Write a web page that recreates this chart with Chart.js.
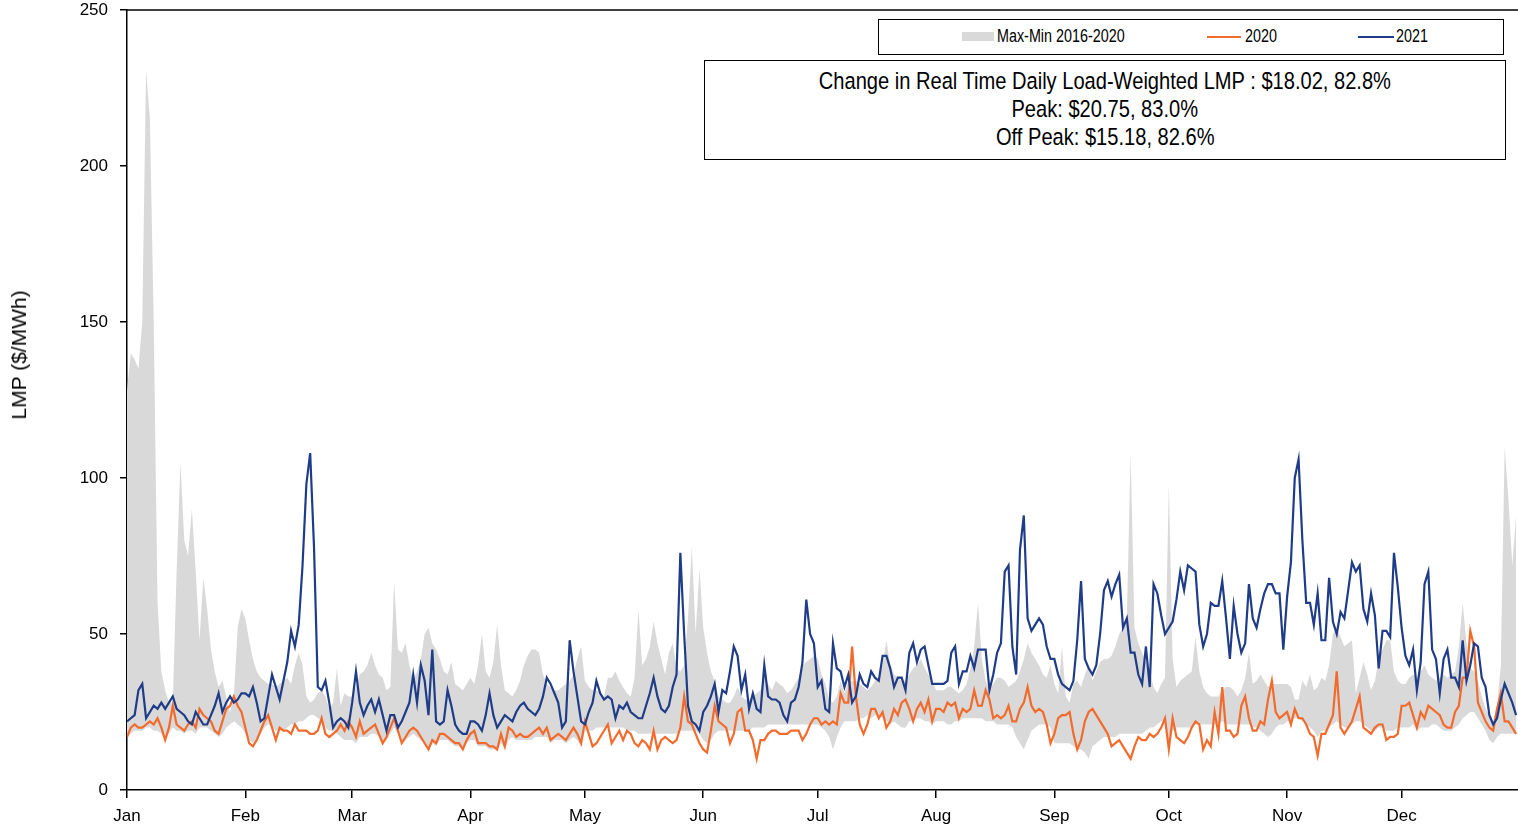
<!DOCTYPE html>
<html><head><meta charset="utf-8">
<script src="https://cdn.jsdelivr.net/npm/chart.js@4.4.1/dist/chart.umd.min.js"></script>
<style>
html,body{margin:0;padding:0;background:#fff;overflow:hidden;}
#wrap{position:relative;width:1518px;height:828px;}
#c{position:absolute;left:0;top:0;}
.t{position:absolute;color:#000;white-space:nowrap;}
#legend{position:absolute;left:878px;top:19px;width:626px;height:36px;border:1.5px solid #000;box-sizing:border-box;background:#fff;}
#note{position:absolute;left:704px;top:60px;width:802px;height:100px;border:1.5px solid #000;box-sizing:border-box;background:#fff;}
.nl{position:absolute;left:0;width:100%;text-align:center;line-height:28px;}
.sq{display:inline-block;transform-origin:center center;}
</style>
</head><body>
<div id="wrap">
<canvas id="c" width="1518" height="828"></canvas>
<div id="legend">
  <div style="position:absolute;left:83px;top:12px;width:32px;height:9px;background:#d9d9d9;"></div>
  <div class="t lg" style="left:118px;top:6px;">Max-Min 2016-2020</div>
  <div style="position:absolute;left:328px;top:15.5px;width:34px;height:2px;background:#f26b2c;"></div>
  <div class="t lg" style="left:366px;top:6px;">2020</div>
  <div style="position:absolute;left:479px;top:15.5px;width:36px;height:2px;background:#1f3c88;"></div>
  <div class="t lg" style="left:517px;top:6px;">2021</div>
</div>
<div id="note">
  <div class="nl" style="top:6px;"><span class="sq nt">Change in Real Time Daily Load-Weighted LMP : $18.02, 82.8%</span></div>
  <div class="nl" style="top:34px;"><span class="sq nt">Peak: $20.75, 83.0%</span></div>
  <div class="nl" style="top:62px;"><span class="sq nt">Off Peak: $15.18, 82.6%</span></div>
</div>
<div id="ytitle" class="t" style="left:19px;top:355px;transform:translate(-50%,-50%) rotate(-90deg);font-family:'Liberation Sans',Arial,sans-serif;font-size:21px;">LMP ($/MWh)</div>
</div>
<script>
// ---- data (daily values, day 0 = Jan 1) ----
const monthLabels = ['Jan','Feb','Mar','Apr','May','Jun','Jul','Aug','Sep','Oct','Nov','Dec'];
const monthStartDay = [0,31,59,90,120,151,181,212,243,273,304,334];
const yTickValues = [0,50,100,150,200,250];
const seriesNames = ['Max-Min 2016-2020','2020','2021'];

const lmp2021 = [
22,23,24,32,34,23,25,27,26,28,26,28,30,26,25,24,22,21,25,23,21,21,24,27,31,25,28,30,28,29,31,
31,30,33,28,22,23,30,37,33,29,35,41,51,46,53,72,98,108,78,33,32,35,28,20,22,23,22,20,
28,38,28,24,27,29,25,29,24,19,24,24,20,22,25,28,37,28,40,35,24,45,22,21,22,32,27,21,19,18,18,
22,22,21,19,24,31,24,20,22,24,23,22,25,27,28,26,25,24,26,30,36,34,31,28,20,22,48,38,30,22,
21,25,28,35,31,29,30,29,23,27,26,28,25,24,23,23,27,31,36,30,26,25,27,33,37,76,50,27,22,21,19,
25,27,30,34,25,32,31,38,46,43,32,37,26,31,26,25,40,30,29,29,28,24,22,28,29,33,41,61,50,47,
33,35,26,25,47,39,38,33,37,28,30,37,34,33,38,36,35,43,43,39,33,36,36,32,44,47,41,45,46,40,34,
34,34,34,35,44,46,34,38,38,43,39,45,45,45,32,37,44,47,70,72,46,37,77,88,55,51,53,55,53,46,42,
42,37,34,33,32,35,48,67,42,39,37,40,50,64,67,62,66,69,52,55,44,44,37,34,46,33,66,63,56,50,
52,54,61,70,64,72,71,70,53,46,50,60,59,59,67,55,42,59,50,44,47,66,55,52,58,63,66,66,63,63,45,
62,73,100,106,80,60,60,53,63,48,48,68,54,50,57,55,64,73,70,72,58,54,63,56,39,51,51,49,76,65,
52,43,40,45,32,41,66,70,45,42,31,42,45,36,36,33,48,35,40,47,46,36,33,24,21,23,29,34,31,28,24
];

const lmp2020 = [
17,20,21,20,20,21,22,21,23,20,16,20,27,21,20,19,21,22,20,26,24,23,22,19,18,22,26,27,30,27,25,
20,15,14,16,19,22,24,20,16,20,19,19,18,21,19,19,19,18,18,19,23,18,17,18,19,21,19,22,
20,17,22,18,19,20,21,18,15,17,20,23,19,15,17,19,20,19,17,15,13,16,15,18,18,17,16,15,15,13,16,
18,19,15,15,15,14,14,13,18,14,20,19,17,18,17,17,18,19,20,18,20,16,17,18,17,16,18,20,18,15,
22,18,14,15,17,19,21,15,17,19,16,19,18,15,14,16,15,13,19,13,16,17,16,15,16,20,30,22,21,18,15,
13,12,19,27,22,21,20,15,18,25,26,19,19,16,10,16,16,18,19,19,18,18,18,19,19,19,16,18,21,23,
23,21,22,21,22,21,31,28,28,46,30,21,18,21,26,26,23,25,20,22,26,24,28,29,26,22,26,28,25,29,22,
26,26,25,28,27,28,23,26,25,26,32,27,27,32,29,23,24,23,24,27,22,22,26,28,33,27,25,26,25,21,15,
18,23,24,24,25,18,13,16,22,25,26,24,22,20,18,14,15,16,14,12,10,14,17,16,16,18,17,18,20,23,
13,23,17,16,15,17,20,22,21,13,16,14,25,18,33,19,19,17,18,27,30,23,19,19,22,21,29,35,25,23,24,
25,21,26,23,23,21,18,17,11,18,18,21,24,38,20,18,20,22,26,30,20,19,18,20,21,21,16,17,17,18,
27,27,28,24,20,25,23,27,26,25,24,21,20,20,25,27,36,36,51,46,28,25,22,20,19,26,31,22,22,20,18
];

const rangeMax = [
128,140,138,135,150,231,215,150,60,38,32,28,28,70,105,80,75,90,70,48,68,58,45,38,33,35,30,25,30,52,58,
55,48,42,38,36,35,34,34,33,34,35,36,34,40,44,40,30,28,29,31,32,30,26,28,39,27,31,30,
30,33,37,38,40,44,40,37,36,32,33,67,45,44,47,40,35,38,42,50,52,47,45,42,38,37,41,34,33,32,34,
36,34,40,50,38,36,41,53,40,32,31,30,32,35,40,43,45,45,44,37,34,33,32,32,33,34,35,37,42,46,
35,33,32,32,31,30,36,36,38,35,33,31,30,36,58,40,42,46,54,47,42,37,44,47,39,38,40,55,78,50,71,
52,44,38,35,30,29,28,28,30,33,30,29,29,30,31,32,37,34,32,35,34,33,31,32,34,36,40,41,42,43,
42,37,34,29,28,30,35,31,35,35,35,34,33,32,33,35,36,40,48,40,37,36,35,35,37,39,40,42,39,37,35,
32,32,32,33,33,32,31,32,34,39,46,60,42,35,32,34,36,36,35,33,34,35,38,42,47,44,42,40,37,36,40,
34,31,46,30,28,34,35,33,37,40,35,38,41,42,42,43,46,50,52,55,108,52,47,44,41,38,33,31,34,36,
98,42,33,35,36,37,38,49,38,33,31,30,30,30,32,33,33,32,30,32,36,44,34,35,37,35,33,34,34,34,34,
34,33,29,29,35,33,37,32,33,36,35,40,50,52,49,46,47,48,31,36,41,37,32,35,42,45,48,48,38,35,
34,34,36,37,36,38,40,37,36,35,36,37,36,37,38,46,60,47,39,38,35,30,26,24,22,27,40,110,93,72,88
];

const rangeMin = [
17,18,19,19,19,20,20,19,19,18,16,18,20,19,19,18,19,19,18,20,20,20,19,18,17,18,20,21,22,21,20,
18,16,15,16,18,20,21,20,19,19,19,20,21,21,22,22,23,24,24,23,22,20,19,19,18,17,16,16,
16,15,17,17,17,18,18,17,15,16,18,20,18,15,16,17,18,17,16,15,13,15,14,16,16,16,15,14,14,13,15,
16,16,14,14,14,13,13,13,15,13,16,17,16,16,16,16,16,17,17,17,17,15,16,16,16,15,16,17,16,14,
19,19,19,20,20,20,20,20,20,20,20,19,19,19,18,18,18,18,18,18,18,18,18,18,18,19,19,19,19,19,18,
16,15,16,18,19,19,19,19,19,19,19,19,19,20,20,20,20,21,21,21,21,21,21,21,21,21,21,21,21,21,
21,20,19,17,13,17,20,22,22,22,22,23,23,24,23,24,24,23,22,21,22,21,20,20,22,22,23,23,22,22,21,
22,22,22,21,21,22,22,23,23,23,23,23,23,22,22,22,21,21,21,21,20,17,15,13,16,19,20,21,21,21,20,
15,15,15,15,15,14,13,13,12,10,14,15,16,17,17,17,17,18,18,18,18,18,18,18,19,20,20,21,22,22,
14,19,20,20,20,20,20,21,21,21,21,21,21,21,22,21,21,21,21,21,21,21,20,20,19,18,17,18,20,21,21,
22,22,23,23,22,21,20,19,17,19,19,20,21,22,21,20,20,21,22,22,21,20,19,19,20,20,19,19,19,20,
20,20,20,21,19,20,20,20,21,21,20,19,19,19,20,21,23,24,25,25,23,21,19,16,15,17,18,18,18,18,18
];

// ---- font detection ----
function hasFont(name){
  const c=document.createElement('canvas').getContext('2d');
  const s='abcdefghijklmnopqrstuvwxyzWM0123';
  c.font='40px monospace'; const a=c.measureText(s).width;
  c.font='40px "'+name+'", monospace'; const b=c.measureText(s).width;
  return Math.abs(a-b)>0.5;
}
const narrow = hasFont('Liberation Sans Narrow');
const fam = narrow ? '"Liberation Sans Narrow", "Liberation Sans", Arial, sans-serif' : '"Liberation Sans", Arial, sans-serif';

document.querySelectorAll('.nt').forEach(e=>{e.style.fontFamily=fam;e.style.fontSize='24.5px';if(!narrow){e.style.transform='scaleX(0.82)';}});
document.querySelectorAll('.lg').forEach(e=>{e.style.fontFamily=fam;e.style.fontSize='17.5px';if(!narrow){e.style.transform='scaleX(0.82)';e.style.transformOrigin='left center';}});

const toXY = arr => arr.map((v,i)=>({x:i,y:v}));
const tickFont = {family: fam, size: narrow?20:17, lineHeight:1};

const topBorder = {
  id:'topBorder',
  afterDraw(chart){
    const {ctx, chartArea:a} = chart;
    ctx.save(); ctx.strokeStyle='#000'; ctx.lineWidth=1.5;
    ctx.beginPath(); ctx.moveTo(a.left, a.top); ctx.lineTo(a.right, a.top); ctx.stroke();
    ctx.restore();
  }
};

new Chart(document.getElementById('c'), {
  type:'line',
  data:{datasets:[
    {label:'min', data:toXY(rangeMin), borderWidth:0, pointRadius:0, fill:false, order:3, borderColor:'rgba(0,0,0,0)'},
    {label:seriesNames[0], data:toXY(rangeMax), borderWidth:0, pointRadius:0, backgroundColor:'#d9d9d9', borderColor:'rgba(0,0,0,0)', fill:'-1', order:3},
    {label:seriesNames[1], data:toXY(lmp2020), borderColor:'#f26b2c', borderWidth:2.2, pointRadius:0, fill:false, order:2},
    {label:seriesNames[2], data:toXY(lmp2021), borderColor:'#1f3c88', borderWidth:2.2, pointRadius:0, fill:false, order:1}
  ]},
  options:{
    responsive:false, animation:false, devicePixelRatio:1,
    layout:{padding:{left:0,right:0,top:10,bottom:0}},
    plugins:{legend:{display:false}, tooltip:{enabled:false}},
    elements:{line:{tension:0}},
    scales:{
      x:{type:'linear', min:0, max:364.5,
        afterBuildTicks:s=>{s.ticks=monthStartDay.map(v=>({value:v}));},
        ticks:{callback:v=>monthLabels[monthStartDay.indexOf(v)], font:tickFont, color:'#000', padding:10, maxRotation:0, autoSkip:false},
        grid:{drawOnChartArea:false, drawTicks:true, tickLength:8, color:'#000', lineWidth:1.5},
        border:{color:'#000', width:1.5},
        afterFit:s=>{s.height=38; s.paddingLeft=0; s.paddingRight=0;}
      },
      y:{min:0, max:250,
        afterBuildTicks:s=>{s.ticks=yTickValues.map(v=>({value:v}));},
        ticks:{font:tickFont, color:'#000', padding:12},
        grid:{drawOnChartArea:false, drawTicks:true, tickLength:7, color:'#000', lineWidth:1.5},
        border:{color:'#000', width:1.5},
        afterFit:s=>{s.width=127; s.paddingTop=0; s.paddingBottom=0;}
      }
    }
  },
  plugins:[topBorder]
});
</script>
</body></html>
